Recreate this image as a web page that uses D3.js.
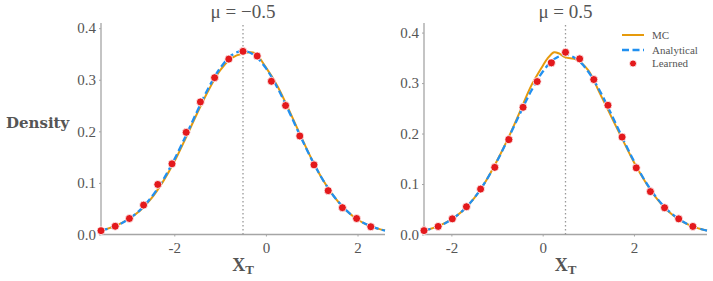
<!DOCTYPE html>
<html>
<head>
<meta charset="utf-8">
<script src="https://cdn.jsdelivr.net/npm/d3@7"></script>
<style>
  body { margin: 0; background: #fff; }
  svg { display: block; }
</style>
</head>
<body>
<div class="d3Container"></div>
<script>
// panel settings
const muValues = [-0.5, 0.5]
const titles = ['μ = −0.5', 'μ = 0.5']
const xTicks = [-2, 0, 2]
const yTicks = [0, 0.1, 0.2, 0.3, 0.4]

// analytical curve, left panel (mu = -0.5)
const xLeftCurve = [-3.6, -3.5, -3.25, -3.0, -2.75, -2.5, -2.25, -2.0, -1.75, -1.5, -1.25, -1.0, -0.75, -0.5, -0.25, 0, 0.25, 0.5, 0.75, 1.0, 1.25, 1.5, 1.75, 2.0, 2.25, 2.5, 2.6]
const analyticalLeft = [0.0077, 0.0099, 0.0175, 0.0295, 0.0473, 0.0723, 0.1051, 0.1453, 0.1911, 0.2391, 0.2847, 0.3224, 0.3474, 0.3562, 0.3474, 0.3224, 0.2847, 0.2391, 0.1911, 0.1453, 0.1051, 0.0723, 0.0473, 0.0295, 0.0175, 0.0099, 0.0077]
const mcLeft = [0.008, 0.010, 0.018, 0.030, 0.046, 0.070, 0.102, 0.141, 0.187, 0.235, 0.280, 0.318, 0.342, 0.351, 0.352, 0.324, 0.288, 0.242, 0.193, 0.146, 0.105, 0.072, 0.047, 0.029, 0.017, 0.010, 0.008]

// analytical curve, right panel (mu = 0.5)
const xRightCurve = [-2.6, -2.5, -2.25, -2.0, -1.75, -1.5, -1.25, -1.0, -0.75, -0.5, -0.25, 0, 0.25, 0.5, 0.75, 1.0, 1.25, 1.5, 1.75, 2.0, 2.25, 2.5, 2.75, 3.0, 3.25, 3.5, 3.6]
const analyticalRight = [0.0077, 0.0099, 0.0175, 0.0295, 0.0473, 0.0723, 0.1051, 0.1453, 0.1911, 0.2391, 0.2847, 0.3224, 0.3474, 0.3562, 0.3474, 0.3224, 0.2847, 0.2391, 0.1911, 0.1453, 0.1051, 0.0723, 0.0473, 0.0295, 0.0175, 0.0099, 0.0077]

// MC curve, right panel has a small bump near the peak
const xRightMC = [-2.6, -2.5, -2.25, -2.0, -1.75, -1.5, -1.25, -1.0, -0.75, -0.5, -0.25, 0, 0.1, 0.25, 0.35, 0.5, 0.75, 1.0, 1.25, 1.5, 1.75, 2.0, 2.25, 2.5, 2.75, 3.0, 3.25, 3.5, 3.6]
const mcRight = [0.008, 0.010, 0.018, 0.030, 0.047, 0.072, 0.105, 0.146, 0.192, 0.243, 0.295, 0.334, 0.348, 0.361, 0.359, 0.351, 0.346, 0.325, 0.280, 0.234, 0.188, 0.143, 0.104, 0.071, 0.046, 0.029, 0.017, 0.010, 0.008]

// learned points
const learnedXLeft = [-3.6, -3.29, -2.98, -2.67, -2.36, -2.05, -1.74, -1.43, -1.12, -0.81, -0.5, -0.19, 0.12, 0.43, 0.74, 1.05, 1.36, 1.67, 1.98, 2.29]
const learnedLeft = [0.0074, 0.016, 0.031, 0.057, 0.097, 0.137, 0.198, 0.257, 0.304, 0.340, 0.355, 0.346, 0.297, 0.250, 0.191, 0.135, 0.085, 0.052, 0.031, 0.015]
const learnedXRight = [-2.6, -2.29, -1.98, -1.67, -1.36, -1.05, -0.74, -0.43, -0.12, 0.19, 0.5, 0.81, 1.12, 1.43, 1.74, 2.05, 2.36, 2.67, 2.98, 3.29]
const learnedRight = [0.0077, 0.016, 0.031, 0.055, 0.090, 0.133, 0.188, 0.252, 0.303, 0.340, 0.361, 0.348, 0.307, 0.256, 0.193, 0.132, 0.085, 0.053, 0.031, 0.016]

const legendLabels = ['MC', 'Analytical', 'Learned']

const orange = '#e69a0c'
const blue = '#2190f0'
const red = '#e3191c'
const textColor = '#555'
const axisColor = '#a5a5a5'
const serifFont = "'Liberation Serif'"

const width = 713, height = 281
const svg = d3.select('.d3Container').append('svg')
    .attr('width', width)
    .attr('height', height)

const panels = [
    { mu: muValues[0], title: titles[0], xDomain: [-3.6, 2.6], yDomain: [0, 0.41], left: 101, right: 385,
      xA: xLeftCurve, yA: analyticalLeft, xM: xLeftCurve, yM: mcLeft, xL: learnedXLeft, yL: learnedLeft },
    { mu: muValues[1], title: titles[1], xDomain: [-2.6, 3.6], yDomain: [0, 0.419], left: 424, right: 707,
      xA: xRightCurve, yA: analyticalRight, xM: xRightMC, yM: mcRight, xL: learnedXRight, yL: learnedRight }
]

const plotTop = 23, plotBottom = 234.5

panels.forEach((p, idx) => {
    let xScale = d3.scaleLinear().domain(p.xDomain).range([p.left, p.right])
    let yScale = d3.scaleLinear().domain(p.yDomain).range([plotBottom, plotTop])

    let g = svg.append('g')

    // axes
    let xAxis = g.append('g')
        .attr('transform', 'translate(0,' + plotBottom + ')')
        .call(d3.axisBottom(xScale).tickValues(xTicks).tickSize(2).tickPadding(6).tickFormat(d => String(d)))
    let yAxis = g.append('g')
        .attr('transform', 'translate(' + p.left + ',0)')
        .call(d3.axisLeft(yScale).tickValues(yTicks).tickSize(2).tickPadding(3).tickFormat(d3.format('.1f')))

    ;[xAxis, yAxis].forEach(ax => {
        ax.attr('font-family', serifFont).attr('font-size', 15)
        ax.select('.domain').attr('stroke', axisColor).attr('stroke-width', 1.3)
        ax.selectAll('.tick line').attr('stroke', axisColor)
        ax.selectAll('.tick text')
            .attr('fill', textColor)
            .style('font-family', serifFont)
            .style('font-size', '15px')
    })
    // the domain path has outer ticks; redraw plain lines
    xAxis.select('.domain').attr('d', 'M' + p.left + ',0H' + p.right)
    yAxis.select('.domain').attr('d', 'M0,' + plotBottom + 'V' + plotTop)

    // vertical dotted line at mu
    g.append('line')
        .attr('x1', xScale(p.mu)).attr('x2', xScale(p.mu))
        .attr('y1', plotBottom).attr('y2', plotTop)
        .attr('stroke', '#999')
        .attr('stroke-width', 1.3)
        .attr('stroke-dasharray', '1.5,2.5')

    let line = d3.line()
        .x(d => xScale(d[0]))
        .y(d => yScale(d[1]))
        .curve(d3.curveCatmullRom)

    g.append('path')
        .datum(p.xM.map((x, i) => [x, p.yM[i]]))
        .attr('d', line)
        .attr('fill', 'none')
        .attr('stroke', orange)
        .attr('stroke-width', 2)

    g.append('path')
        .datum(p.xA.map((x, i) => [x, p.yA[i]]))
        .attr('d', line)
        .attr('fill', 'none')
        .attr('stroke', blue)
        .attr('stroke-width', 2.3)
        .attr('stroke-dasharray', '7,3.5')

    g.selectAll('circle.learned')
        .data(p.xL.map((x, i) => [x, p.yL[i]]))
        .enter()
        .append('circle')
        .attr('class', 'learned')
        .attr('cx', d => xScale(d[0]))
        .attr('cy', d => yScale(d[1]))
        .attr('r', 4)
        .attr('fill', red)
        .attr('stroke', '#fff')
        .attr('stroke-width', 0.8)

    // title
    g.append('text')
        .attr('x', (p.left + p.right) / 2)
        .attr('y', 18)
        .attr('text-anchor', 'middle')
        .attr('fill', textColor)
        .style('font-family', serifFont)
        .style('font-size', '19px')
        .text(p.title)

    // x label
    let xl = g.append('text')
        .attr('x', (p.left + p.right) / 2)
        .attr('y', 271)
        .attr('text-anchor', 'middle')
        .attr('fill', textColor)
        .style('font-family', serifFont)
        .style('font-weight', 'bold')
        .style('font-size', '18px')
    xl.append('tspan').text('X')
    xl.append('tspan').attr('dy', 3).style('font-size', '13px').text('T')
})

// y label
svg.append('text')
    .attr('x', 6)
    .attr('y', 128)
    .attr('fill', textColor)
    .style('font-family', "'DejaVu Serif'")
    .style('font-weight', 'bold')
    .style('font-size', '15px')
    .text('Density')

// legend
const legend = svg.append('g').attr('transform', 'translate(622,0)')
const legendY = [35, 50, 63.5]
legend.append('line')
    .attr('x1', 0).attr('x2', 22).attr('y1', legendY[0]).attr('y2', legendY[0])
    .attr('stroke', orange).attr('stroke-width', 2)
legend.append('line')
    .attr('x1', 0).attr('x2', 22).attr('y1', legendY[1]).attr('y2', legendY[1])
    .attr('stroke', blue).attr('stroke-width', 2.3).attr('stroke-dasharray', '7,3.5')
legend.append('circle')
    .attr('cx', 11).attr('cy', legendY[2]).attr('r', 3.5)
    .attr('fill', red).attr('stroke', '#fff').attr('stroke-width', 0.8)
legend.selectAll('text.leg')
    .data(legendLabels)
    .enter()
    .append('text')
    .attr('class', 'leg')
    .attr('x', 30)
    .attr('y', (d, i) => legendY[i] + 3.5)
    .attr('fill', textColor)
    .style('font-family', serifFont)
    .style('font-size', '11px')
    .text(d => d)
</script>
</body>
</html>
